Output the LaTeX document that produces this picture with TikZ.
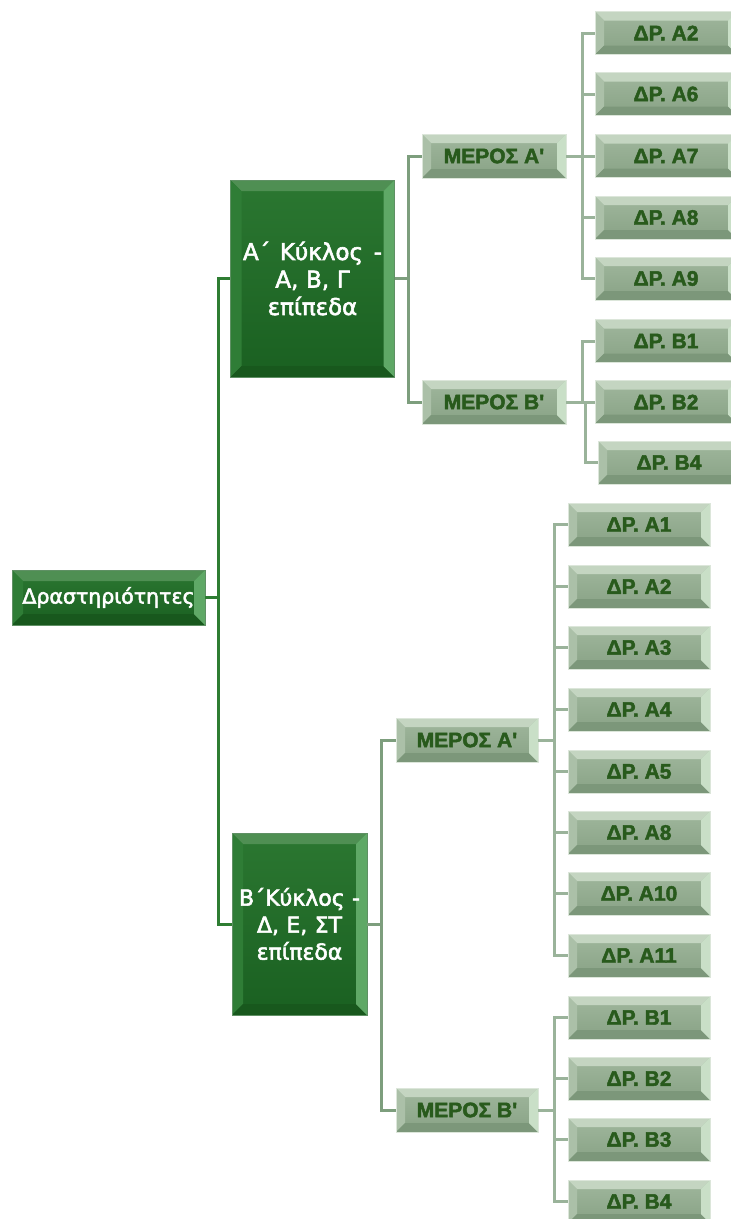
\documentclass[tikz,border=0pt]{standalone}
\usepackage{fontspec}
\newfontfamily\wfont{DejaVu Sans}[FakeBold=2.5]
\newfontfamily\lfont{Liberation Sans}[BoldFeatures={FakeBold=2.2}]
\definecolor{gface1}{HTML}{2B7731}
\definecolor{gface2}{HTML}{1A6021}
\definecolor{gtop}{HTML}{4F8F53}
\definecolor{gleft}{HTML}{2F7D36}
\definecolor{gbot}{HTML}{18581D}
\definecolor{gright}{HTML}{5FA866}
\definecolor{lface1}{HTML}{A0B79D}
\definecolor{lface2}{HTML}{88A285}
\definecolor{ltop}{HTML}{C4D5C1}
\definecolor{lleft}{HTML}{ABC0A8}
\definecolor{lbot}{HTML}{7C977A}
\definecolor{lright}{HTML}{C9DFC7}
\definecolor{ltext}{HTML}{285A1C}
\definecolor{lineA}{HTML}{2E7D32}
\definecolor{lineB}{HTML}{7D9E7D}
\definecolor{lineC}{HTML}{9AB39A}
\tikzset{
  bevel/.style n args={5}{path picture={
    \coordinate (ppnw) at (path picture bounding box.north west);
    \coordinate (ppne) at (path picture bounding box.north east);
    \coordinate (ppsw) at (path picture bounding box.south west);
    \coordinate (ppse) at (path picture bounding box.south east);
    \fill[#2] (ppnw) -- (ppne) -- ([shift={(-#1,-#1)}]ppne) -- ([shift={(#1,-#1)}]ppnw) -- cycle;
    \fill[#3] (ppnw) -- (ppsw) -- ([shift={(#1,#1)}]ppsw) -- ([shift={(#1,-#1)}]ppnw) -- cycle;
    \fill[#4] (ppsw) -- (ppse) -- ([shift={(-#1,#1)}]ppse) -- ([shift={(#1,#1)}]ppsw) -- cycle;
    \fill[#5] (ppne) -- (ppse) -- ([shift={(-#1,#1)}]ppse) -- ([shift={(-#1,-#1)}]ppne) -- cycle;
  }},
  gbox/.style={rectangle, inner sep=0pt, top color=gface1, bottom color=gface2,
    bevel={11pt}{gtop}{gleft}{gbot}{gright}, draw=gface2!70!white, line width=0.6pt,
    text=white, font=\wfont\fontsize{20.5}{22}\selectfont, align=center},
  bigtext/.style={font=\wfont\fontsize{22}{27}\selectfont},
  bigtextA/.style={font=\wfont\fontsize{23}{27.5}\selectfont},
  lbox/.style={rectangle, inner sep=0pt, minimum width=142pt, minimum height=43pt,
    top color=lface1, bottom color=lface2,
    bevel={9pt}{ltop}{lleft}{lbot}{lright}, draw=ltop!60!white, line width=0.6pt,
    text=ltext, font=\lfont\bfseries\fontsize{21}{24}\selectfont},
  mbox/.style={lbox, minimum width=144pt, minimum height=44pt},
  connA/.style={draw=lineA, line width=3pt},
  connB/.style={draw=lineB, line width=3pt},
  connC/.style={draw=lineC, line width=3pt},
}
\begin{document}
\begin{tikzpicture}[x=1pt,y=-1pt]
\useasboundingbox (0,0) rectangle (731,1219);
\fill[white] (0,0) rectangle (731,1219);

% level 0 and 1
\node[gbox, minimum width=193pt, minimum height=55pt] (root) at (108.5,597.5) {Δραστηριότητες};
\node[gbox, bigtextA, minimum width=161pt, minimum height=197pt, text width=164pt] (kA) at (312.5,278.5) {Α΄\hspace{2pt} Κύκλος\hspace{3pt} -\\ Α, Β, Γ\\ επίπεδα};
\node[gbox, bigtext, minimum width=135pt, minimum height=182pt, text width=134pt] (kB) at (299.5,924) {Β΄Κύκλος -\\ Δ, Ε, ΣΤ\\ επίπεδα};

% level 2
\node[mbox] (mA1) at (494,156) {ΜΕΡΟΣ Α'};
\node[mbox] (mB1) at (494,402) {ΜΕΡΟΣ Β'};
\node[mbox, minimum width=142pt] (mA2) at (467,740) {ΜΕΡΟΣ Α'};
\node[mbox, minimum width=142pt] (mB2) at (467,1110) {ΜΕΡΟΣ Β'};

% leaves top
\node[lbox] (tA2) at (666,33) {ΔΡ. Α2};
\node[lbox] (tA6) at (666,94) {ΔΡ. Α6};
\node[lbox] (tA7) at (666,156) {ΔΡ. Α7};
\node[lbox] (tA8) at (666,217.5) {ΔΡ. Α8};
\node[lbox] (tA9) at (666,278.5) {ΔΡ. Α9};
\node[lbox] (tB1) at (666,341) {ΔΡ. Β1};
\node[lbox] (tB2) at (666,402) {ΔΡ. Β2};
\node[lbox] (tB4) at (669,462.5) {ΔΡ. Β4};

% leaves bottom
\node[lbox] (bA1) at (639,524.5) {ΔΡ. Α1};
\node[lbox] (bA2) at (639,586.5) {ΔΡ. Α2};
\node[lbox] (bA3) at (639,647.5) {ΔΡ. Α3};
\node[lbox] (bA4) at (639,709.5) {ΔΡ. Α4};
\node[lbox] (bA5) at (639,771.5) {ΔΡ. Α5};
\node[lbox] (bA8) at (639,832.5) {ΔΡ. Α8};
\node[lbox] (bA10) at (639,893.5) {ΔΡ. Α10};
\node[lbox] (bA11) at (639,955.5) {ΔΡ. Α11};
\node[lbox] (bB1) at (639,1017.5) {ΔΡ. Β1};
\node[lbox] (bB2) at (639,1078.5) {ΔΡ. Β2};
\node[lbox] (bB3) at (639,1139.5) {ΔΡ. Β3};
\node[lbox] (bB4) at (639,1201.5) {ΔΡ. Β4};

% junctions
\coordinate (j0) at (218,597.5);
\coordinate (j1) at (408,278.5);
\coordinate (j2) at (381,924);
\coordinate (j3) at (582,156);
\coordinate (j4) at (582,402);
\coordinate (j4b) at (585,402);
\coordinate (j5) at (554,740);
\coordinate (j6) at (554,1110);

% connectors
\draw[connA] (root.east) -- (j0) |- (kA.west);
\draw[connA] (j0) |- (kB.west);

\draw[connB] (kA.east) -- (j1) |- (mA1.west);
\draw[connB] (j1) |- (mB1.west);
\draw[connB] (kB.east) -- (j2) |- (mA2.west);
\draw[connB] (j2) |- (mB2.west);

\foreach \l in {tA2,tA6,tA7,tA8,tA9}{\draw[connC] (mA1.east) -- (j3) |- (\l.west);}
\foreach \l in {tB1,tB2}{\draw[connC] (mB1.east) -- (j4) |- (\l.west);}
\draw[connC] (mB1.east) -- (j4b) |- (tB4.west);
\foreach \l in {bA1,bA2,bA3,bA4,bA5,bA8,bA10,bA11}{\draw[connC] (mA2.east) -- (j5) |- (\l.west);}
\foreach \l in {bB1,bB2,bB3,bB4}{\draw[connC] (mB2.east) -- (j6) |- (\l.west);}
\end{tikzpicture}
\end{document}
